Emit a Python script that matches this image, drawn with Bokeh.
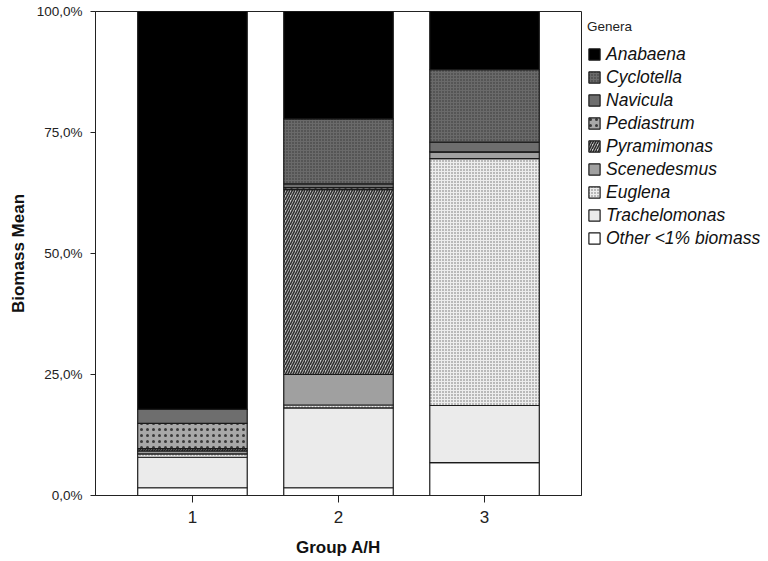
from bokeh.plotting import figure
from bokeh.models import ColumnDataSource, Legend, LegendItem, Range1d, FixedTicker
from bokeh.transform import stack
from bokeh.embed import file_html
from bokeh.resources import INLINE

# ---- data ----
groups = [1, 2, 3]
group_labels = ["1", "2", "3"]
genera = ["Other <1% biomass", "Trachelomonas", "Euglena", "Scenedesmus",
          "Pyramimonas", "Pediastrum", "Navicula", "Cyclotella", "Anabaena"]
other = [1.6, 1.6, 6.8]
trachelomonas = [6.3, 16.5, 11.8]
euglena = [0.7, 0.6, 51.0]
scenedesmus = [0.6, 6.3, 1.4]
pyramimonas = [0.5, 38.2, 0.0]
pediastrum = [5.2, 0.4, 0.0]
navicula = [2.9, 0.8, 2.0]
cyclotella = [0.0, 13.4, 15.0]
anabaena = [82.2, 22.2, 12.0]
y_ticks = [0, 25, 50, 75, 100]
y_tick_labels = ["0,0%", "25,0%", "50,0%", "75,0%", "100,0%"]

series = [other, trachelomonas, euglena, scenedesmus, pyramimonas,
          pediastrum, navicula, cyclotella, anabaena]
keys = ["g%d" % i for i in range(len(genera))]

data = {"x": groups}
for k, s in zip(keys, series):
    data[k] = s
source = ColumnDataSource(data)

# styles (bottom -> top)
styles = [
    dict(fill_color="#ffffff", hatch_pattern=None),
    dict(fill_color="#ebebeb", hatch_pattern=None),
    dict(fill_color="#ededed", hatch_pattern="dot", hatch_color="#6a6a6a", hatch_scale=3, hatch_weight=1),
    dict(fill_color="#a0a0a0", hatch_pattern=None),
    dict(fill_color="#c8c8c8", hatch_pattern="right_diagonal_line", hatch_color="#2e2e2e", hatch_scale=5, hatch_weight=1.6),
    dict(fill_color="#a8a8a8", hatch_pattern="dot", hatch_color="#3a3a3a", hatch_scale=6, hatch_weight=0.8),
    dict(fill_color="#6e6e6e", hatch_pattern=None),
    dict(fill_color="#6a6a6a", hatch_pattern="dot", hatch_color="#333333", hatch_scale=3, hatch_weight=1),
    dict(fill_color="#000000", hatch_pattern=None),
]

FONT = "Liberation Sans"

p = figure(frame_width=486, frame_height=484,
           min_border_left=95, min_border_top=11, min_border_bottom=62, min_border_right=0,
           x_range=Range1d(0.336, 3.664), y_range=Range1d(0, 100),
           output_backend="svg", toolbar_location=None)

p.outline_line_color = "#222222"
p.outline_line_width = 1
p.xgrid.visible = False
p.ygrid.visible = False
p.background_fill_color = "white"
p.border_fill_color = "white"

renderers = []
for i, (k, st) in enumerate(zip(keys, styles)):
    kw = dict(st)
    if kw.get("hatch_pattern") is None:
        kw.pop("hatch_pattern")
    r = p.vbar(x="x", width=0.75, bottom=stack(*keys[:i]), top=stack(*keys[:i + 1]),
               source=source, line_color="#1a1a1a", line_width=1.2, **kw)
    renderers.append(r)

items = [LegendItem(label=genera[i], renderers=[renderers[i]]) for i in reversed(range(len(genera)))]
legend = Legend(items=items, title="Genera", location=(6, 246))
legend.border_line_color = None
legend.background_fill_alpha = 0
legend.margin = 0
legend.padding = 3
legend.title_text_font = FONT
legend.title_text_font_size = "13.5px"
legend.title_text_font_style = "normal"
legend.title_text_color = "#222222"
legend.title_standoff = 9
legend.label_text_font = FONT
legend.label_text_font_size = "17.5px"
legend.label_text_font_style = "italic"
legend.label_text_color = "#111111"
legend.glyph_width = 14
legend.glyph_height = 14
legend.label_height = 22
legend.spacing = 1
legend.label_standoff = 5
p.add_layout(legend, "right")

# axes
p.xaxis.ticker = FixedTicker(ticks=groups)
p.xaxis.major_label_overrides = {g: l for g, l in zip(groups, group_labels)}
p.xaxis.axis_label = "Group A/H"
p.yaxis.ticker = FixedTicker(ticks=y_ticks)
p.yaxis.major_label_overrides = {t: l for t, l in zip(y_ticks, y_tick_labels)}
p.yaxis.axis_label = "Biomass Mean"

for ax in (p.xaxis, p.yaxis):
    ax.minor_tick_line_color = None
    ax.major_tick_in = 0
    ax.axis_line_color = "#222222"
    ax.major_tick_line_color = "#222222"
    ax.major_label_text_font = FONT
    ax.major_label_text_color = "#222222"
    ax.axis_label_text_font = FONT
    ax.axis_label_text_font_style = "bold"
    ax.axis_label_text_color = "#111111"

p.xaxis.major_tick_out = 7
p.xaxis.major_label_text_font_size = "17px"
p.xaxis.major_label_standoff = 8
p.xaxis.axis_label_standoff = 12
p.xaxis.axis_label_text_font_size = "17px"
p.yaxis.major_tick_out = 5
p.yaxis.major_label_text_font_size = "13.5px"
p.yaxis.major_label_standoff = 8
p.yaxis.axis_label_standoff = 6
p.yaxis.axis_label_text_font_size = "17px"

open("out.html", "w").write(file_html(p, INLINE))
